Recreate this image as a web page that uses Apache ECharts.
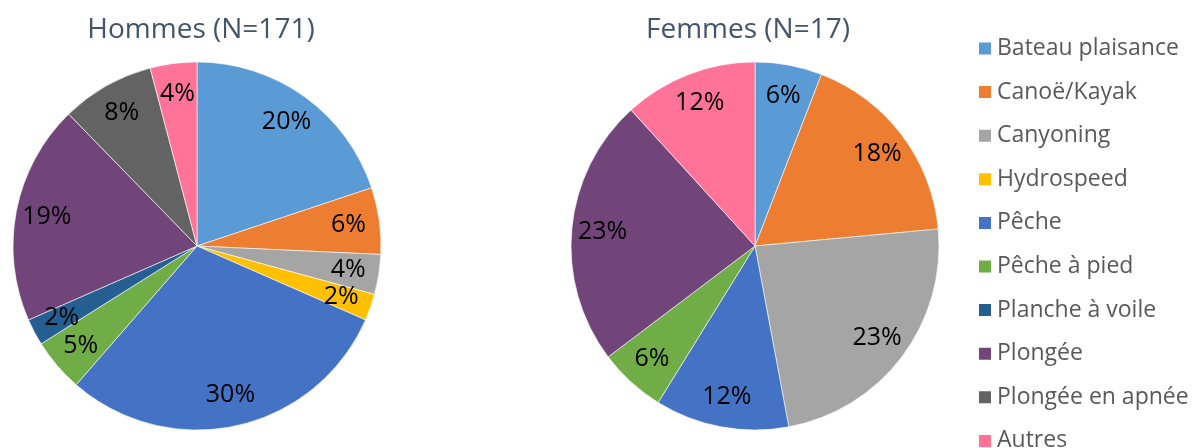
<!DOCTYPE html>
<html>
<head>
<meta charset="utf-8">
<script src="https://cdn.jsdelivr.net/npm/echarts@6/dist/echarts.min.js"></script>
<style>
  html, body { margin: 0; padding: 0; background: #fff; }
  #chart { width: 1194px; height: 448px; }
</style>
</head>
<body>
<div id="chart"></div>
<script>
  // catégories (ordre de la légende)
  var categories = ['Bateau plaisance', 'Canoë/Kayak', 'Canyoning', 'Hydrospeed', 'Pêche',
    'Pêche à pied', 'Planche à voile', 'Plongée', 'Plongée en apnée', 'Autres'];
  var colors = ['#5B9BD5', '#ED7D31', '#A5A5A5', '#FFC000', '#4472C4',
    '#70AD47', '#255E91', '#72457A', '#636363', '#FF7399'];

  var hommes = [34, 10, 6, 4, 51, 8, 4, 33, 14, 7];   // N=171
  var femmes = [1, 3, 4, 0, 2, 1, 0, 4, 0, 2];        // N=17

  var titles = ['Hommes (N=171)', 'Femmes (N=17)'];

  var font = '"Open Sans", "Noto Sans", sans-serif';

  function buildData(values) {
    var out = [];
    values.forEach(function (v, i) {
      if (v > 0) {
        out.push({ name: categories[i], value: v, itemStyle: { color: colors[i] } });
      }
    });
    return out;
  }

  function pieSeries(values, cx) {
    return {
      type: 'pie',
      center: [cx, 246],
      radius: 184,
      startAngle: 90,
      clockwise: true,
      percentPrecision: 0,
      data: buildData(values),
      itemStyle: { borderColor: '#fff', borderWidth: 0.6 },
      label: { show: false },
      labelLine: { show: false },
      emphasis: { disabled: true }
    };
  }

  // série invisible qui ne sert qu'à placer les étiquettes plus près du bord
  function labelSeries(values, cx) {
    return {
      type: 'pie',
      center: [cx, 246],
      radius: [116, 184],
      startAngle: 90,
      clockwise: true,
      percentPrecision: 0,
      silent: true,
      data: buildData(values).map(function (d) {
        return { name: d.name, value: d.value, itemStyle: { color: 'rgba(0,0,0,0)' } };
      }),
      itemStyle: { borderWidth: 0 },
      label: {
        show: true,
        position: 'inside',
        formatter: function (p) { return p.percent + '%'; },
        color: '#000',
        fontSize: 25,
        fontFamily: font
      },
      labelLine: { show: false },
      emphasis: { disabled: true }
    };
  }

  var myChart = echarts.init(document.getElementById('chart'), null, { renderer: 'canvas' });

  var option = {
    backgroundColor: '#fff',
    animation: false,
    title: [
      {
        text: titles[0], left: 201, top: 16, textAlign: 'center', padding: 0,
        textStyle: { color: '#44546A', fontSize: 28, fontWeight: 'normal', fontFamily: font }
      },
      {
        text: titles[1], left: 748, top: 16, textAlign: 'center', padding: 0,
        textStyle: { color: '#44546A', fontSize: 28, fontWeight: 'normal', fontFamily: font }
      }
    ],
    legend: {
      orient: 'vertical',
      left: 977,
      top: 37,
      height: 430,
      padding: 0,
      icon: 'rect',
      itemWidth: 14,
      itemHeight: 14,
      itemGap: 20.6,
      selectedMode: false,
      data: categories,
      textStyle: { color: '#595959', fontSize: 23, fontFamily: font }
    },
    series: [
      pieSeries(hommes, 197),
      pieSeries(femmes, 755),
      labelSeries(hommes, 197),
      labelSeries(femmes, 755)
    ]
  };

  myChart.setOption(option);
</script>
</body>
</html>
